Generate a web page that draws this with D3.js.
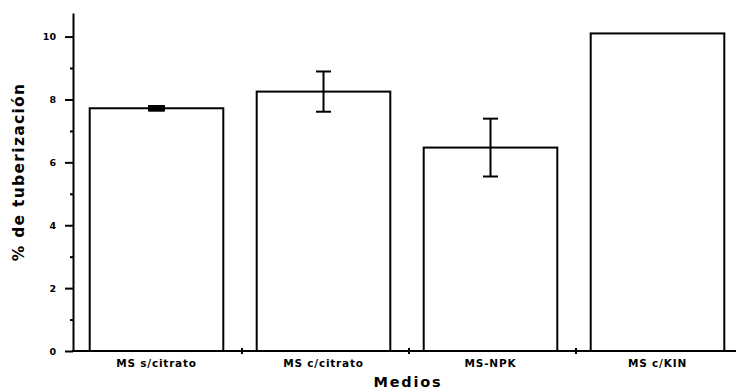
<!DOCTYPE html>
<html>
<head>
<meta charset="utf-8">
<script src="https://cdn.jsdelivr.net/npm/d3@7"></script>
<style>
  body { margin: 0; background: #fff; }
  svg { display: block; font-family: 'DejaVu Sans', sans-serif; font-weight: bold; }
  .axis path, .axis line { stroke: #000; stroke-width: 2; }
  .axis text { fill: #000; font-size: 9.5px; font-weight: bold; font-family: 'DejaVu Sans', sans-serif; }
</style>
</head>
<body>
<svg width="736" height="392"></svg>
<script>
(function () {

const categories = ['MS s/citrato', 'MS c/citrato', 'MS-NPK', 'MS c/KIN'];
const values = [7.72, 8.25, 6.47, 10.1];
const errors = [0.07, 0.64, 0.92, null];
const majorTicks = [0, 2, 4, 6, 8, 10];
const minorTicks = [1, 3, 5, 7, 9];

const svg = d3.select('svg'),
    margin = {top: 13, right: 0, bottom: 41, left: 73},
    width = +svg.attr('width'),
    height = +svg.attr('height');

const data = categories.map(function(c, i) { return {cat: c, value: values[i], err: errors[i]}; });

const x = d3.scaleBand()
  .domain(categories)
  .range([margin.left, 741])
  .paddingInner(0.2)
  .paddingOuter(0.1);

const y = d3.scaleLinear()
  .domain([0, 10.75])
  .range([height - margin.bottom, margin.top]);

// bars
svg.selectAll('.bar')
  .data(data)
  .enter().append('rect')
    .attr('class', 'bar')
    .attr('x', function(d) { return x(d.cat); })
    .attr('y', function(d) { return y(d.value); })
    .attr('width', x.bandwidth())
    .attr('height', function(d) { return y(0) - y(d.value); })
    .attr('fill', '#fff')
    .attr('stroke', '#000')
    .attr('stroke-width', 2);

// error bars
const capHalf = 7.5;
const err = svg.selectAll('.err')
  .data(data.filter(function(d) { return d.err != null; }))
  .enter().append('g')
    .attr('class', 'err')
    .attr('stroke', '#000')
    .attr('stroke-width', 2);

err.append('line')
    .attr('x1', function(d) { return x(d.cat) + x.bandwidth() / 2; })
    .attr('x2', function(d) { return x(d.cat) + x.bandwidth() / 2; })
    .attr('y1', function(d) { return y(d.value + d.err); })
    .attr('y2', function(d) { return y(d.value - d.err); });

err.selectAll('.cap')
  .data(function(d) { return [d.value + d.err, d.value - d.err].map(function(v) { return {cat: d.cat, v: v}; }); })
  .enter().append('line')
    .attr('class', 'cap')
    .attr('x1', function(d) { return x(d.cat) + x.bandwidth() / 2 - capHalf; })
    .attr('x2', function(d) { return x(d.cat) + x.bandwidth() / 2 + capHalf; })
    .attr('y1', function(d) { return y(d.v); })
    .attr('y2', function(d) { return y(d.v); });

// tiny error bar: caps merge into a solid block
err.filter(function(d) { return y(d.value - d.err) - y(d.value + d.err) < 8; })
  .append('rect')
    .attr('x', function(d) { return x(d.cat) + x.bandwidth() / 2 - capHalf; })
    .attr('y', function(d) { return y(d.value + d.err); })
    .attr('width', capHalf * 2)
    .attr('height', function(d) { return y(d.value - d.err) - y(d.value + d.err); })
    .attr('fill', '#000');

// x axis line with ticks between the bars
const xAxis = svg.append('g').attr('class', 'axis axis--x');
xAxis.append('line')
    .attr('x1', margin.left - 1)
    .attr('x2', width)
    .attr('y1', y(0))
    .attr('y2', y(0))
    .attr('stroke', '#000')
    .attr('stroke-width', 2);

xAxis.selectAll('.xtick')
  .data(categories.slice(0, -1))
  .enter().append('line')
    .attr('class', 'xtick')
    .attr('x1', function(d) { return x(d) + x.step() - (x.step() - x.bandwidth()) / 2 + 2; })
    .attr('x2', function(d) { return x(d) + x.step() - (x.step() - x.bandwidth()) / 2 + 2; })
    .attr('y1', y(0) - 3)
    .attr('y2', y(0) + 3)
    .attr('stroke-width', 2.5);

xAxis.selectAll('.xlabel')
  .data(categories)
  .enter().append('text')
    .attr('class', 'xlabel')
    .attr('x', function(d) { return x(d) + x.bandwidth() / 2; })
    .attr('y', y(0) + 16)
    .attr('text-anchor', 'middle')
    .style('font-size', '10.5px')
    .style('letter-spacing', '0.8px')
    .text(function(d) { return d; });

// y axis
svg.append('g')
  .attr('class', 'axis axis--y')
  .attr('transform', 'translate(' + margin.left + ',0)')
  .call(d3.axisLeft(y).tickValues(majorTicks).tickSize(8).tickPadding(9).tickSizeOuter(0));

svg.append('g')
  .attr('class', 'axis axis--y-minor')
  .attr('transform', 'translate(' + margin.left + ',0)')
  .call(d3.axisLeft(y).tickValues(minorTicks).tickSize(3).tickFormat('').tickSizeOuter(0))
  .call(function(g) { g.select('.domain').remove(); });

// axis titles
svg.append('text')
    .attr('x', x.range()[0] + (x.range()[1] - x.range()[0]) / 2 + 1)
    .attr('y', 387)
    .attr('text-anchor', 'middle')
    .style('font-size', '14.5px')
    .style('letter-spacing', '1.8px')
    .text('Medios');

svg.append('text')
    .attr('transform', 'translate(24,' + 172 + ') rotate(-90)')
    .attr('text-anchor', 'middle')
    .style('font-size', '15.5px')
    .style('letter-spacing', '1.3px')
    .text('% de tuberización');

})();
</script>
</body>
</html>
